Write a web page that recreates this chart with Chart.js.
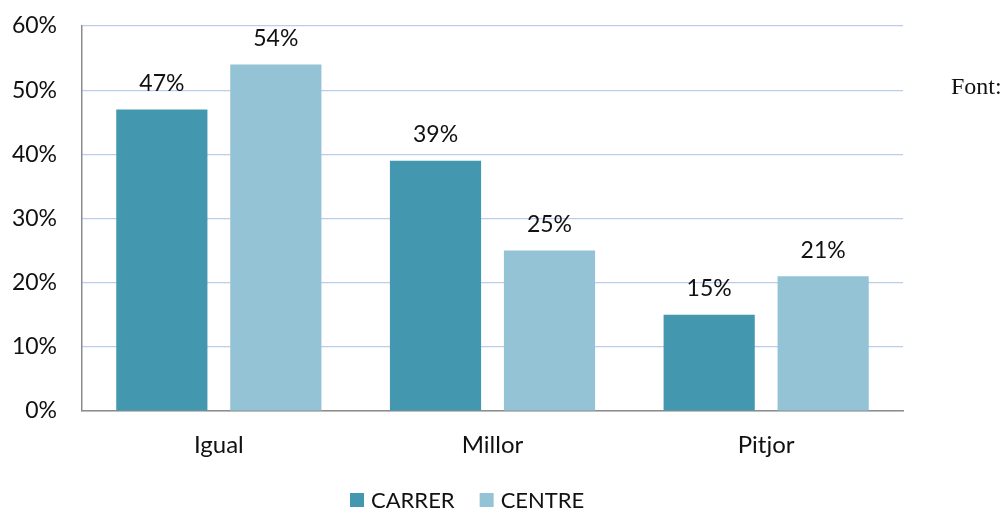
<!DOCTYPE html>
<html><head><meta charset="utf-8">
<script src="https://cdn.jsdelivr.net/npm/chart.js@4/dist/chart.umd.min.js"></script>
<style>html,body{margin:0;padding:0;background:#fff}#wrap{width:1005px;height:511px}</style>
</head><body><div id="wrap"><canvas id="c" width="1005" height="511"></canvas></div>
<script>
const categories = ['Igual', 'Millor', 'Pitjor'];
const carrer = [47, 39, 15];
const centre = [54, 25, 21];
const seriesNames = ['CARRER', 'CENTRE'];
const seriesColors = ['#4398AF', '#93C3D4'];
const sideNote = 'Font:';
const FONT = 'Lato, "Open Sans", sans-serif';

const labelPlugin = {
  id: 'labels',
  afterDatasetsDraw(chart) {
    const ctx = chart.ctx;
    ctx.save();
    ctx.font = '23px ' + FONT;
    ctx.fillStyle = '#111';
    ctx.textAlign = 'center';
    ctx.textBaseline = 'middle';
    chart.data.datasets.forEach((ds, i) => {
      chart.getDatasetMeta(i).data.forEach((bar, j) => {
        ctx.fillText(ds.data[j] + '%', bar.x, bar.y - 26);
      });
    });
    ctx.restore();
  },
  afterDraw(chart) {
    const ctx = chart.ctx;
    ctx.save();
    ctx.textBaseline = 'middle';
    ctx.textAlign = 'left';
    ctx.font = '22px ' + FONT;
    let x = 350;
    chart.data.datasets.forEach((ds) => {
      ctx.fillStyle = ds.backgroundColor;
      ctx.fillRect(x, 493, 14, 14);
      ctx.fillStyle = '#111';
      ctx.fillText(ds.label, x + 21, 501);
      x += 21 + ctx.measureText(ds.label).width + 25;
    });
    ctx.font = '24px "Liberation Serif", serif';
    ctx.fillText(sideNote, 951, 88);
    ctx.restore();
  }
};

new Chart(document.getElementById('c'), {
  type: 'bar',
  data: {
    labels: categories,
    datasets: [
      { label: seriesNames[0], data: carrer, backgroundColor: seriesColors[0] },
      { label: seriesNames[1], data: centre, backgroundColor: seriesColors[1] }
    ]
  },
  options: {
    responsive: false,
    animation: false,
    devicePixelRatio: 1,
    categoryPercentage: 0.833,
    barPercentage: 0.8,
    layout: { padding: { left: 0, right: 102, top: 26, bottom: 0 } },
    plugins: { legend: { display: false }, tooltip: { enabled: false } },
    scales: {
      x: {
        grid: { display: false, drawTicks: false },
        border: { color: '#8c8c8c', width: 1.5 },
        ticks: { color: '#111', font: { size: 24, family: FONT }, padding: 20 },
        afterFit(s) { s.height = 100; s.paddingLeft = 0; s.paddingRight = 0; }
      },
      y: {
        min: 0, max: 60,
        grid: { color: '#BACDEB', lineWidth: 1.2, drawTicks: false },
        border: { color: '#8c8c8c', width: 1.5 },
        ticks: { stepSize: 10, color: '#111', font: { size: 23, family: FONT }, padding: 25,
                 callback: v => v + '%' },
        afterFit(s) { s.width = 82; s.paddingTop = 0; s.paddingBottom = 0; }
      }
    }
  },
  plugins: [labelPlugin]
});
</script></body></html>
